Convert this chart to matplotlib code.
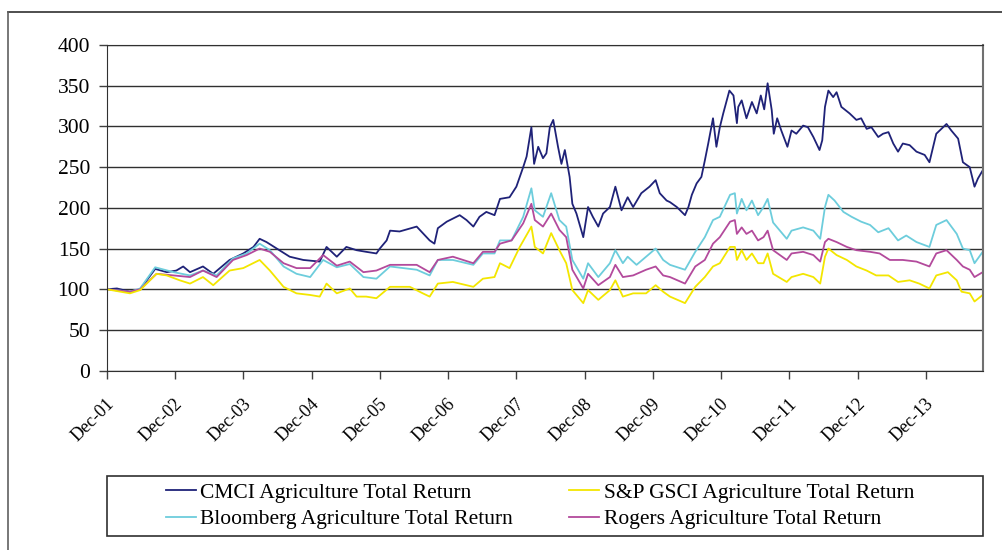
import matplotlib
matplotlib.use('Agg')
import matplotlib.pyplot as plt
from matplotlib.lines import Line2D
from matplotlib.patches import Rectangle
from matplotlib.transforms import ScaledTranslation

plt.rcParams['font.family'] = ['Liberation Serif', 'DejaVu Serif']

# years since Dec-01
tick_labels = ['Dec-01', 'Dec-02', 'Dec-03', 'Dec-04', 'Dec-05', 'Dec-06', 'Dec-07',
               'Dec-08', 'Dec-09', 'Dec-10', 'Dec-11', 'Dec-12', 'Dec-13']

cmci_t = [0.00, 0.15, 0.34, 0.49, 0.71, 0.88, 1.02, 1.12, 1.22, 1.41, 1.56, 1.80, 2.00, 2.15,
          2.24, 2.34, 2.49, 2.68, 2.88, 3.12, 3.22, 3.37, 3.51, 3.66, 3.80, 3.95,
          4.00, 4.10, 4.15, 4.29, 4.54, 4.63, 4.73, 4.80, 4.85, 4.98, 5.17, 5.27, 5.37, 5.46,
          5.56, 5.68, 5.76, 5.90, 6.00, 6.10, 6.15, 6.22, 6.26, 6.32, 6.39, 6.44, 6.49, 6.54,
          6.61, 6.66, 6.71, 6.78, 6.82, 6.88, 6.98, 7.05, 7.12, 7.20, 7.27, 7.37, 7.45, 7.54,
          7.63, 7.71, 7.83, 7.95, 8.04, 8.10, 8.20,
          8.25, 8.35, 8.47, 8.52, 8.57, 8.64, 8.71, 8.76, 8.81, 8.88, 8.93, 8.98, 9.03, 9.12,
          9.18, 9.23, 9.25, 9.30, 9.37, 9.45, 9.52, 9.58, 9.63, 9.68, 9.74, 9.77, 9.82, 9.88,
          9.97, 10.03, 10.10, 10.20, 10.27, 10.35, 10.44, 10.48, 10.52, 10.57, 10.64, 10.69,
          10.76, 10.88, 10.98, 11.05, 11.13, 11.20, 11.30, 11.37, 11.45, 11.52, 11.59, 11.66,
          11.76, 11.86, 11.98, 12.05, 12.15, 12.30, 12.37, 12.47, 12.54, 12.64, 12.71, 12.76, 12.83]
cmci_v = [100, 101, 97, 100, 125, 121, 123, 128, 121, 128, 119, 136, 144, 152,
          162, 158, 150, 140, 136, 134, 152, 140, 152, 148, 146, 144,
          150, 160, 172, 171, 177, 169, 160, 156, 175, 183, 191, 185, 177, 189,
          195, 191, 211, 213, 226, 250, 263, 299, 254, 275, 261, 267, 299, 308,
          275, 254, 271, 238, 205, 193, 164, 201, 189, 177, 193, 201, 226, 197,
          213, 201, 218, 226, 234, 218, 209,
          207, 201, 191, 201, 216, 230, 238, 258, 279, 310, 275, 299, 316, 344,
          338, 304, 324, 332, 310, 330, 316, 338, 321, 353, 320, 291, 310, 295,
          275, 295, 291, 301, 299, 287, 271, 283, 324, 344, 336, 342,
          324, 316, 308, 310, 297, 299, 287, 291, 293, 279, 269, 279,
          277, 269, 265, 256, 291, 303, 295, 285, 256, 250, 226, 236, 246]

bbg_t = [0.00, 0.34, 0.49, 0.71, 0.98, 1.22, 1.41, 1.61, 1.85, 2.05, 2.24, 2.39, 2.59, 2.78,
         2.98, 3.17, 3.37, 3.56, 3.76, 3.95,
         4.15, 4.54, 4.73, 4.85, 5.07, 5.37, 5.51, 5.68, 5.76, 5.93, 6.10, 6.22, 6.27, 6.39,
         6.51, 6.63, 6.73, 6.82, 6.98, 7.05, 7.20, 7.37, 7.45, 7.56, 7.63, 7.76, 7.90, 8.04, 8.15,
         8.25, 8.47, 8.62, 8.76, 8.88, 8.98, 9.13, 9.20, 9.23, 9.30, 9.37, 9.45, 9.54, 9.62,
         9.68, 9.76, 9.96, 10.03, 10.20, 10.35, 10.45, 10.52, 10.57, 10.66, 10.79, 10.91,
         11.05, 11.18, 11.30, 11.45, 11.59, 11.71, 11.86, 12.05, 12.15, 12.30, 12.45, 12.54,
         12.64, 12.71, 12.83]
bbg_v = [100, 97, 101, 127, 121, 117, 123, 117, 138, 144, 156, 148, 128, 119,
         115, 136, 127, 131, 115, 113,
         128, 124, 117, 136, 136, 130, 144, 144, 160, 160, 189, 224, 197, 189,
         218, 185, 177, 136, 113, 132, 115, 132, 148, 132, 140, 130, 140, 150, 136,
         130, 124, 146, 164, 185, 189, 216, 218, 193, 211, 197, 209, 191, 201,
         211, 182, 162, 172, 176, 172, 162, 201, 216, 209, 195, 189,
         183, 179, 170, 175, 160, 166, 158, 152, 179, 185, 168, 150,
         148, 132, 146]

rog_t = [0.00, 0.34, 0.49, 0.73, 0.98, 1.22, 1.41, 1.61, 1.85, 2.05, 2.24, 2.39, 2.59, 2.78,
         2.98, 3.17, 3.37, 3.56, 3.76, 3.95,
         4.15, 4.54, 4.73, 4.85, 5.07, 5.37, 5.51, 5.68, 5.76, 5.93, 6.10, 6.22, 6.27, 6.39,
         6.51, 6.63, 6.73, 6.82, 6.98, 7.05, 7.20, 7.37, 7.45, 7.56, 7.71, 7.90, 8.04, 8.15,
         8.25, 8.47, 8.62, 8.76, 8.88, 8.98, 9.13, 9.20, 9.23, 9.30, 9.37, 9.45, 9.54, 9.62,
         9.68, 9.76, 9.96, 10.03, 10.20, 10.35, 10.45, 10.52, 10.57, 10.69, 10.84, 10.98,
         11.18, 11.32, 11.47, 11.66, 11.86, 12.05, 12.15, 12.30, 12.45, 12.54, 12.64, 12.71, 12.83]
rog_v = [100, 97, 100, 119, 117, 115, 123, 115, 136, 142, 150, 146, 132, 126,
         126, 142, 129, 134, 121, 123,
         130, 130, 121, 136, 140, 132, 146, 146, 156, 160, 181, 205, 185, 177,
         193, 173, 164, 124, 101, 119, 105, 115, 130, 115, 117, 124, 128, 117,
         115, 107, 128, 136, 156, 164, 183, 185, 168, 176, 168, 172, 160, 164,
         172, 148, 136, 144, 146, 142, 134, 158, 162, 158, 152, 148,
         146, 144, 136, 136, 134, 128, 144, 148, 136, 128, 124, 115, 121]

gsci_t = [0.00, 0.34, 0.49, 0.73, 0.88, 1.07, 1.22, 1.41, 1.56, 1.80, 2.00, 2.24, 2.39, 2.59,
          2.78, 2.98, 3.12, 3.22, 3.37, 3.56, 3.66, 3.80, 3.95,
          4.15, 4.44, 4.63, 4.73, 4.85, 5.07, 5.37, 5.51, 5.68, 5.76, 5.90, 6.05, 6.22, 6.27,
          6.39, 6.51, 6.63, 6.73, 6.82, 6.98, 7.05, 7.20, 7.37, 7.45, 7.56, 7.71, 7.90, 8.04, 8.15,
          8.25, 8.47, 8.62, 8.76, 8.88, 8.98, 9.13, 9.20, 9.23, 9.30, 9.37, 9.45, 9.54, 9.62,
          9.68, 9.76, 9.96, 10.03, 10.20, 10.35, 10.45, 10.52, 10.57, 10.69, 10.84, 10.98,
          11.13, 11.27, 11.45, 11.59, 11.76, 11.90, 12.05, 12.15, 12.32, 12.45, 12.52, 12.64,
          12.71, 12.83]
gsci_v = [100, 95, 99, 119, 117, 111, 107, 115, 105, 123, 126, 136, 123, 103,
          95, 93, 91, 107, 95, 101, 91, 91, 89,
          103, 103, 95, 91, 107, 109, 103, 113, 115, 132, 126, 152, 177, 152,
          144, 169, 148, 132, 99, 83, 99, 87, 99, 111, 91, 95, 95, 105, 97,
          91, 83, 103, 115, 128, 132, 152, 152, 136, 148, 136, 144, 132, 132,
          144, 119, 109, 115, 119, 115, 107, 140, 150, 142, 136, 128,
          123, 117, 117, 109, 111, 107, 101, 117, 121, 111, 97, 95,
          85, 93]

W, H = 1002, 550
fig = plt.figure(figsize=(W / 100, H / 100), dpi=100)
ax = fig.add_axes([106.7 / W, 1 - 370.7 / H, 876 / W, 325.7 / H])

l1, = ax.plot(cmci_t, cmci_v, color='#1f2278', lw=1.3, label='CMCI Agriculture Total Return')
l3, = ax.plot(bbg_t, bbg_v, color='#6dcddc', lw=1.3, label='Bloomberg Agriculture Total Return')
l4, = ax.plot(rog_t, rog_v, color='#b34a9c', lw=1.3, label='Rogers Agriculture Total Return')
l2, = ax.plot(gsci_t, gsci_v, color='#f3e600', lw=1.3, label='S&P GSCI Agriculture Total Return')

ax.set_xlim(0, 12.83)
ax.set_ylim(0, 400)
ax.set_yticks(range(0, 401, 50))
ax.set_xticks(range(len(tick_labels)))
ax.tick_params(axis='y', labelsize=15.5, length=6, width=1, pad=6, color='#404040')
ax.tick_params(axis='x', length=6, width=1, pad=3, color='#404040')
ax.set_xticklabels(tick_labels, rotation=45, ha='right', fontsize=13)
shift = ScaledTranslation(0.11, -0.12, fig.dpi_scale_trans)
for lab in ax.get_xticklabels():
    lab.set_transform(lab.get_transform() + shift)
ax.grid(axis='y', color='#303030', lw=1)
ax.set_axisbelow(True)
for s in ['left', 'bottom', 'top']:
    ax.spines[s].set_color('#303030')
ax.spines['right'].set_color('#707070')
ax.spines['right'].set_linewidth(1.5)

# outer frame (top and left only)
fig.add_artist(Line2D([8 / W, 1], [1 - 12 / H, 1 - 12 / H], color='#303030', lw=1.2))
fig.add_artist(Line2D([8 / W, 8 / W], [0, 1 - 12 / H], color='#606060', lw=1.2))

# legend box
fig.add_artist(Rectangle((106.7 / W, 1 - 536 / H), 876 / W, 60 / H, fill=False,
                         edgecolor='#303030', lw=1.2))
fig.legend([l1, l3, l2, l4], [l.get_label() for l in [l1, l3, l2, l4]], ncol=2,
           loc='center', bbox_to_anchor=(540 / W, 1 - 506 / H), frameon=False,
           fontsize=15.5, handlelength=1.4, handletextpad=0.2, columnspacing=2.6,
           labelspacing=0.3)

fig.savefig('out.png', dpi=100)
